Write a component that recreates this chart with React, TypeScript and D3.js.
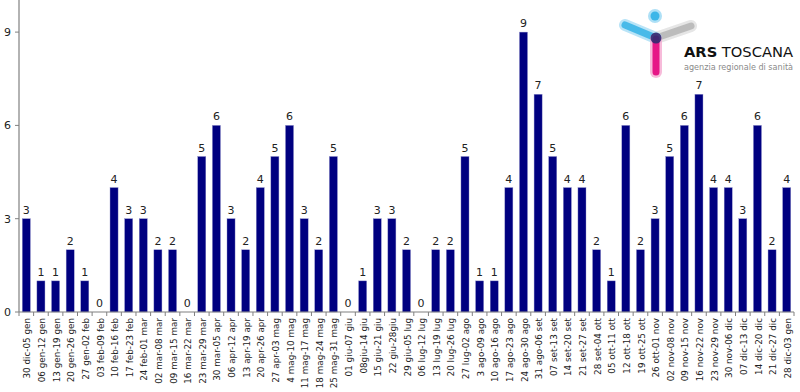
import { useEffect, useRef } from 'react';
import * as d3 from 'd3';

// weekly counts
const weeks = [
  '30 dic-05 gen', '06 gen-12 gen', '13 gen-19 gen', '20 gen-26 gen', '27 gen-02 feb',
  '03 feb-09 feb', '10 feb-16 feb', '17 feb-23 feb', '24 feb-01 mar', '02 mar-08 mar',
  '09 mar-15 mar', '16 mar-22 mar', '23 mar-29 mar', '30 mar-05 apr', '06 apr-12 apr',
  '13 apr-19 apr', '20 apr-26 apr', '27 apr-03 mag', '4 mag-10 mag', '11 mag-17 mag',
  '18 mag-24 mag', '25 mag-31 mag', '01 giu-07 giu', '08giu-14 giu', '15 giu-21 giu',
  '22 giu-28giu', '29 giu-05 lug', '06 lug-12 lug', '13 lug-19 lug', '20 lug-26 lug',
  '27 lug-02 ago', '3 ago-09 ago', '10 ago-16 ago', '17 ago-23 ago', '24 ago-30 ago',
  '31 ago-06 set', '07 set-13 set', '14 set-20 set', '21 set-27 set', '28 set-04 ott',
  '05 ott-11 ott', '12 ott-18 ott', '19 ott-25 ott', '26 ott-01 nov', '02 nov-08 nov',
  '09 nov-15 nov', '16 nov-22 nov', '23 nov-29 nov', '30 nov-06 dic', '07 dic-13 dic',
  '14 dic-20 dic', '21 dic-27 dic', '28 dic-03 gen',
];
const counts = [
  3, 1, 1, 2, 1, 0, 4, 3, 3, 2,
  2, 0, 5, 6, 3, 2, 4, 5, 6, 3,
  2, 5, 0, 1, 3, 3, 2, 0, 2, 2,
  5, 1, 1, 4, 9, 7, 5, 4, 4, 2,
  1, 6, 2, 3, 5, 6, 7, 4, 4, 3,
  6, 2, 4,
];
const yTicks = [0, 3, 6, 9];

const App = () => {
  const svgRef = useRef<SVGSVGElement | null>(null);

  useEffect(() => {
    if (!svgRef.current) return;
    const svg = d3.select(svgRef.current);
    svg.selectAll('*').remove();

    const left = 19;
    const right = 794;
    const bottom = 312;
    const top = 0;

    const x = d3.scaleBand<string>().domain(weeks).range([left, right]).paddingInner(0.45).paddingOuter(0.225);
    const y = d3.scaleLinear().domain([0, 10]).range([bottom, top + 1]);
    const step = x.step();

    const g = svg.append('g');

    // bars
    g.selectAll('rect.bar')
      .data(counts)
      .join('rect')
      .attr('class', 'bar')
      .attr('x', (_, i) => x(weeks[i])!)
      .attr('y', (d) => y(d))
      .attr('width', x.bandwidth())
      .attr('height', (d) => bottom - y(d))
      .attr('fill', '#000080')
      .attr('stroke', '#8c8cc8')
      .attr('stroke-width', 0.4);

    // value labels
    g.selectAll('text.val')
      .data(counts)
      .join('text')
      .attr('class', 'val')
      .attr('x', (_, i) => x(weeks[i])! + x.bandwidth() / 2)
      .attr('y', (d) => y(d) - 5)
      .attr('text-anchor', 'middle')
      .attr('font-family', 'DejaVu Sans')
      .attr('font-size', 11)
      .attr('fill', '#222')
      .text((d) => d);

    // y axis
    const axisColor = '#808080';
    g.append('line')
      .attr('x1', left).attr('x2', left)
      .attr('y1', top).attr('y2', bottom)
      .attr('stroke', axisColor).attr('stroke-width', 1.2);
    g.selectAll('line.ytick')
      .data(yTicks)
      .join('line')
      .attr('class', 'ytick')
      .attr('x1', left - 4).attr('x2', left)
      .attr('y1', (d) => y(d)).attr('y2', (d) => y(d))
      .attr('stroke', axisColor);
    g.selectAll('text.ylab')
      .data(yTicks)
      .join('text')
      .attr('class', 'ylab')
      .attr('x', left - 8)
      .attr('y', (d) => y(d))
      .attr('dy', '0.36em')
      .attr('text-anchor', 'end')
      .attr('font-family', 'DejaVu Sans')
      .attr('font-size', 11)
      .attr('fill', '#222')
      .text((d) => d);

    // x axis
    g.append('line')
      .attr('x1', left).attr('x2', right)
      .attr('y1', bottom).attr('y2', bottom)
      .attr('stroke', axisColor).attr('stroke-width', 1.2);
    g.selectAll('line.xtick')
      .data(d3.range(weeks.length + 1))
      .join('line')
      .attr('class', 'xtick')
      .attr('x1', (i) => left + i * step).attr('x2', (i) => left + i * step)
      .attr('y1', bottom).attr('y2', bottom + 4)
      .attr('stroke', axisColor);
    g.selectAll('text.xlab')
      .data(weeks)
      .join('text')
      .attr('class', 'xlab')
      .attr('transform', (d) => `translate(${x(d)! + x.bandwidth() / 2 + 1},318) rotate(-90)`)
      .attr('dy', '0.35em')
      .attr('text-anchor', 'end')
      .attr('font-family', 'DejaVu Sans')
      .attr('font-size', 8.8)
      .attr('fill', '#222')
      .text((d) => d);

    // logo
    const logo = svg.append('g');
    const limb = (x1: number, y1: number, x2: number, y2: number, outer: string, inner: string) => {
      logo.append('line').attr('x1', x1).attr('y1', y1).attr('x2', x2).attr('y2', y2)
        .attr('stroke', outer).attr('stroke-width', 12).attr('stroke-linecap', 'round').attr('opacity', 0.85);
      logo.append('line').attr('x1', x1).attr('y1', y1).attr('x2', x2).attr('y2', y2)
        .attr('stroke', inner).attr('stroke-width', 7).attr('stroke-linecap', 'round').attr('opacity', 0.9);
    };
    limb(656, 38, 691, 26, '#e2e2e2', '#b8b8b8');
    limb(625, 25, 656, 38, '#aee0f6', '#3cb6e8');
    limb(656, 39, 656, 72, '#f6b0d4', '#e5067f');
    logo.append('circle').attr('cx', 655).attr('cy', 16).attr('r', 7).attr('fill', '#aee0f6');
    logo.append('circle').attr('cx', 655).attr('cy', 16).attr('r', 4.5).attr('fill', '#3cb6e8');
    logo.append('circle').attr('cx', 656).attr('cy', 38).attr('r', 5.5).attr('fill', '#2e2a70').attr('opacity', 0.9);

    const title = logo.append('text')
      .attr('x', 684).attr('y', 57)
      .attr('font-family', 'DejaVu Sans Condensed, DejaVu Sans')
      .attr('font-size', 13.5)
      .attr('fill', '#111')
      .attr('textLength', 109)
      .attr('lengthAdjust', 'spacingAndGlyphs');
    title.append('tspan').attr('font-weight', 'bold').text('ARS');
    title.append('tspan').text(' TOSCANA');
    logo.append('text')
      .attr('x', 684).attr('y', 70)
      .attr('font-family', 'DejaVu Sans Condensed, DejaVu Sans')
      .attr('font-size', 9)
      .attr('fill', '#8a8a8a')
      .attr('textLength', 109)
      .attr('lengthAdjust', 'spacingAndGlyphs')
      .text('agenzia regionale di sanità');
  }, []);

  return (
    <svg
      ref={svgRef}
      width={800}
      height={392}
      style={{ position: 'absolute', left: 0, top: 0, background: '#fff' }}
    />
  );
};

export default App;
